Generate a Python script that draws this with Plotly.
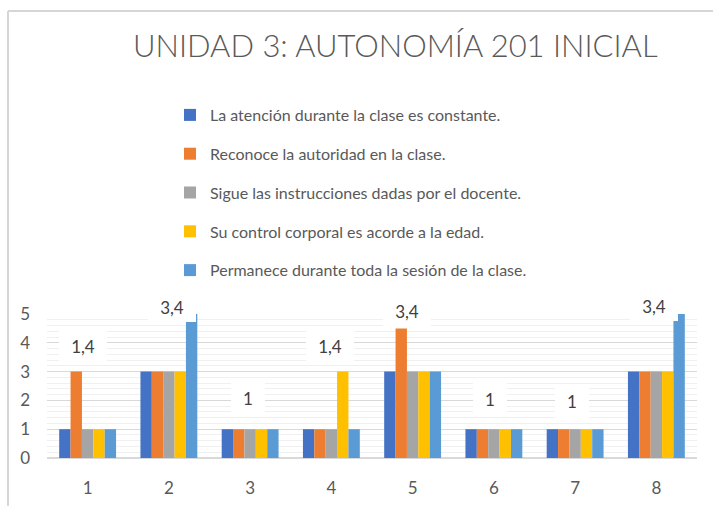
import plotly.graph_objects as go

# Categories (evaluation items) and the five observed behaviours
categorias = ["1", "2", "3", "4", "5", "6", "7", "8"]

serie_atencion = [1, 3, 1, 1, 3, 1, 1, 3]
serie_autoridad = [3, 3, 1, 1, 4.5, 1, 1, 3]
serie_instrucciones = [1, 3, 1, 1, 3, 1, 1, 3]
serie_control = [1, 3, 1, 3, 3, 1, 1, 3]
serie_permanece = [1, 5, 1, 1, 3, 1, 1, 5]

nombres = [
    "La atención durante la clase es constante.",
    "Reconoce la autoridad en la clase.",
    "Sigue las instrucciones dadas por el docente.",
    "Su control corporal es acorde a la edad.",
    "Permanece durante toda la sesión de la clase.",
]
colores = ["#4472C4", "#ED7D31", "#A5A5A5", "#FFC000", "#5B9BD5"]
series = [serie_atencion, serie_autoridad, serie_instrucciones, serie_control, serie_permanece]

# Text boxes shown above each group
etiquetas = ["1,4", "3,4", "1", "1,4", "3,4", "1", "1", "3,4"]

# Placement of those boxes (layout only): height on the value scale, pixel shift
altura_etiqueta = [3.89, 5.25, 2.08, 3.89, 5.12, 2.04, 1.97, 5.28]
desplaz_etiqueta = [-5, 3, -2, -1, -6, -4, -3, -2]
alto_caja = [34, 26, 30, 34, 26, 30, 30, 26]

FUENTE = "Lato"
GRIS = "#595959"
Y_MAX = 5

fig = go.Figure()
for nombre, color, valores in zip(nombres, colores, series):
    fig.add_trace(go.Bar(
        x=categorias, y=valores, name=nombre,
        marker=dict(color=color, line=dict(width=0)),
        legendgroup=nombre,
    ))

L, R, T, B = 47, 16, 314, 48
W, H = 713, 506
pw, ph = W - L - R, H - T - B


def px_x(p):
    return (p - L) / pw


def px_y(p):
    return (H - B - p) / ph


anotaciones = []
for i, (txt, yv, dx, hc) in enumerate(zip(etiquetas, altura_etiqueta, desplaz_etiqueta, alto_caja)):
    ancho = 44 if "," in txt else 30
    anotaciones.append(dict(
        x=i, y=yv / Y_MAX, xref="x", yref="paper", text=txt, showarrow=False,
        xanchor="center", yanchor="middle",
        xshift=dx, font=dict(family=FUENTE, size=17, color="#404040"),
        bgcolor="white", borderwidth=0, width=ancho, height=hc, borderpad=2,
    ))

anotaciones.append(dict(
    x=px_x(395), y=px_y(45), xref="paper", yref="paper",
    text="UNIDAD 3: AUTONOMÍA 201 INICIAL", showarrow=False,
    xanchor="center", yanchor="middle",
    font=dict(family=FUENTE, size=31, color=GRIS, weight=300),
))

# Chart frame (top and left edges)
formas = [
    dict(type="line", xref="paper", yref="paper",
         x0=px_x(8), x1=px_x(W + 5), y0=px_y(11), y1=px_y(11),
         line=dict(color="#D6D6D6", width=2)),
    dict(type="line", xref="paper", yref="paper",
         x0=px_x(8), x1=px_x(8), y0=px_y(11), y1=px_y(H + 5),
         line=dict(color="#D6D6D6", width=2)),
]

fig.update_layout(
    width=W, height=H,
    margin=dict(l=L, r=R, t=T, b=B, pad=0, autoexpand=False),
    paper_bgcolor="white", plot_bgcolor="white",
    barmode="group", bargap=0.3, bargroupgap=0,
    font=dict(family=FUENTE, color=GRIS),
    showlegend=True,
    legend=dict(
        x=px_x(170), y=px_y(98), xanchor="left", yanchor="top",
        font=dict(family=FUENTE, size=16, color=GRIS),
        traceorder="grouped", tracegroupgap=15,
        itemwidth=30, bgcolor="rgba(0,0,0,0)",
    ),
    annotations=anotaciones,
    shapes=formas,
    xaxis=dict(
        type="category", automargin=False,
        showgrid=False, zeroline=False, showline=False,
        ticks="", tickfont=dict(family=FUENTE, size=17, color=GRIS),
        ticklabelstandoff=18,
    ),
    yaxis=dict(
        range=[0, Y_MAX], automargin=False, dtick=1,
        showgrid=True, gridcolor="#D9D9D9", gridwidth=1,
        zeroline=True, zerolinecolor="#D9D9D9", zerolinewidth=1.5,
        showline=False, ticks="",
        tickfont=dict(family=FUENTE, size=17, color=GRIS),
        ticklabelstandoff=16,
        minor=dict(dtick=0.2, showgrid=True, gridcolor="#F0F0F0", gridwidth=1),
    ),
)

fig.write_html("out.html")
